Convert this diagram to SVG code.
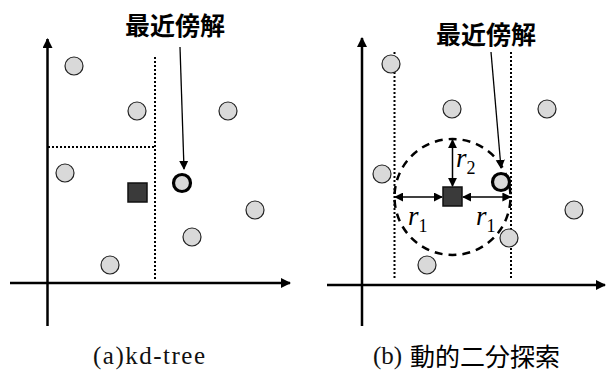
<svg xmlns="http://www.w3.org/2000/svg" width="607" height="374" viewBox="0 0 607 374">
  <style>
    .axis { stroke: #000; stroke-width: 2.5; fill: none; }
    .split { stroke: #000; stroke-width: 2; stroke-dasharray: 2 2; fill: none; }
    .pt { fill: #d9d9d9; stroke: #222; stroke-width: 1.2; }
    .nn { fill: #d9d9d9; stroke: #000; stroke-width: 3.2; }
    .query { fill: #3a3a3a; stroke: #111; stroke-width: 1.5; }
    .ptr { stroke: #000; stroke-width: 1.3; fill: none; }
    .dim { stroke: #000; stroke-width: 1.5; fill: none; }
    .range { stroke: #000; stroke-width: 2.5; fill: none; stroke-dasharray: 8 6; stroke-dashoffset: 11; }
    .jp { font-family: "Noto Sans CJK JP", "Noto Sans", sans-serif; font-weight: bold; font-size: 25px; fill: #000; }
    .cap { font-family: "Liberation Serif", "DejaVu Serif", serif; font-size: 25px; fill: #111; }
    .capjp { font-family: "Noto Sans CJK JP", "Noto Sans", sans-serif; font-size: 25px; fill: #000; }
    .var { font-family: "Liberation Serif", serif; font-style: italic; font-size: 27px; fill: #000; }
    .sub { font-family: "Liberation Serif", serif; font-size: 18px; fill: #000; }
  </style>
  <defs>
    <marker id="axisHead" viewBox="0 0 10 10" refX="9" refY="5" markerWidth="4" markerHeight="4" orient="auto" markerUnits="strokeWidth">
      <path d="M0,0 L10,5 L0,10 Z" fill="#000"/>
    </marker>
    <marker id="ptrHead" viewBox="0 0 10 10" refX="9" refY="5" markerWidth="7" markerHeight="8" orient="auto" markerUnits="strokeWidth">
      <path d="M0,0 L10,5 L0,10 Z" fill="#000"/>
    </marker>
    <marker id="dimEnd" viewBox="0 0 10 10" refX="9" refY="5" markerWidth="6" markerHeight="6" orient="auto" markerUnits="strokeWidth">
      <path d="M0,0 L10,5 L0,10 Z" fill="#000"/>
    </marker>
    <marker id="dimStart" viewBox="0 0 10 10" refX="1" refY="5" markerWidth="6" markerHeight="6" orient="auto" markerUnits="strokeWidth">
      <path d="M10,0 L0,5 L10,10 Z" fill="#000"/>
    </marker>
  </defs>

  <!-- (a) kd-tree partition -->
  <g id="panel-a">
    <g id="a-axes">
      <line class="axis" x1="47.5" y1="326" x2="47.5" y2="39" marker-end="url(#axisHead)"/>
      <line class="axis" x1="10" y1="283" x2="290" y2="283" marker-end="url(#axisHead)"/>
    </g>
    <g id="a-splits">
      <line class="split" x1="155" y1="57" x2="155" y2="279"/>
      <line class="split" x1="48" y1="147" x2="155" y2="147"/>
    </g>
    <g id="a-points">
      <circle class="pt" cx="74" cy="66" r="9"/>
      <circle class="pt" cx="137" cy="111" r="9"/>
      <circle class="pt" cx="228" cy="111" r="9"/>
      <circle class="pt" cx="65" cy="173" r="9"/>
      <circle class="pt" cx="255" cy="210" r="9"/>
      <circle class="pt" cx="192" cy="237" r="9"/>
      <circle class="pt" cx="110" cy="265" r="9"/>
    </g>
    <g id="a-nearest"><circle class="nn" cx="182" cy="183" r="8.5"/></g>
    <g id="a-query"><rect class="query" x="128" y="183" width="19" height="19"/></g>
    <g id="a-label">
      <text class="jp" x="175" y="35" text-anchor="middle">最近傍解</text>
    </g>
    <g id="a-connectors">
      <line class="ptr" x1="180" y1="47" x2="184" y2="169" marker-end="url(#ptrHead)"/>
    </g>
    <text class="cap" x="93" y="364" letter-spacing="1.5">(a)kd-tree</text>
  </g>

  <!-- (b) dynamic binary search -->
  <g id="panel-b">
    <g id="b-axes">
      <line class="axis" x1="362" y1="326" x2="362" y2="38" marker-end="url(#axisHead)"/>
      <line class="axis" x1="327" y1="285" x2="605" y2="285" marker-end="url(#axisHead)"/>
    </g>
    <g id="b-bounds">
      <line class="split" x1="394.5" y1="52" x2="394.5" y2="280"/>
      <line class="split" x1="511" y1="52" x2="511" y2="280"/>
    </g>
    <g id="b-range"><circle class="range" cx="452.5" cy="197" r="58"/></g>
    <g id="b-points">
      <circle class="pt" cx="391" cy="64" r="9"/>
      <circle class="pt" cx="452" cy="109" r="9"/>
      <circle class="pt" cx="547" cy="109" r="9"/>
      <circle class="pt" cx="382" cy="174" r="9"/>
      <circle class="pt" cx="574" cy="210" r="9"/>
      <circle class="pt" cx="509" cy="238" r="9"/>
      <circle class="pt" cx="427" cy="265" r="9"/>
    </g>
    <g id="b-nearest"><circle class="nn" cx="501" cy="182" r="8.5"/></g>
    <g id="b-query"><rect class="query" x="443" y="187" width="19" height="19"/></g>
    <g id="b-connectors">
      <line class="ptr" x1="491" y1="52" x2="501" y2="168" marker-end="url(#ptrHead)"/>
      <line class="dim" x1="452.5" y1="140" x2="452.5" y2="186" marker-start="url(#dimStart)" marker-end="url(#dimEnd)"/>
      <line class="dim" x1="395" y1="197" x2="442" y2="197" marker-start="url(#dimStart)" marker-end="url(#dimEnd)"/>
      <line class="dim" x1="463" y1="197" x2="510.5" y2="197" marker-start="url(#dimStart)" marker-end="url(#dimEnd)"/>
    </g>
    <g id="b-radii">
      <text x="456" y="167"><tspan class="var">r</tspan><tspan class="sub" dy="7">2</tspan></text>
      <text x="408" y="225"><tspan class="var">r</tspan><tspan class="sub" dy="7">1</tspan></text>
      <text x="476" y="225"><tspan class="var">r</tspan><tspan class="sub" dy="7">1</tspan></text>
    </g>
    <g id="b-label">
      <text class="jp" x="486" y="44" text-anchor="middle">最近傍解</text>
    </g>
    <text class="cap" x="373" y="364">(b)</text>
    <text class="capjp" x="410" y="366">動的二分探索</text>
  </g>
</svg>
